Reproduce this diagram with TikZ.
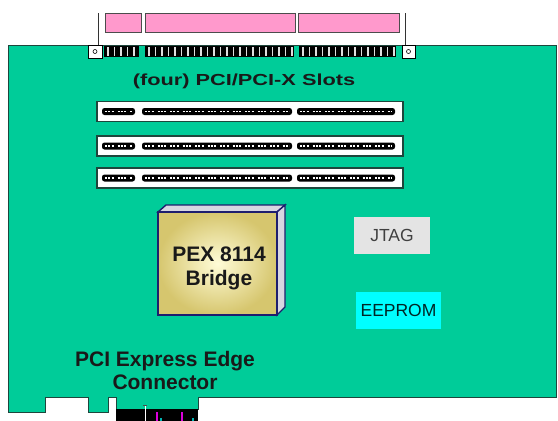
\documentclass[tikz,border=0pt]{standalone}
\usepackage{graphicx}
\usepackage{fontspec}
\setmainfont{Liberation Sans}
\definecolor{board}{RGB}{0,204,153}
\definecolor{boardline}{RGB}{30,70,60}
\definecolor{pinkc}{RGB}{255,153,204}
\definecolor{navy}{RGB}{30,30,110}
\definecolor{chipin}{RGB}{255,252,215}
\definecolor{chipout}{RGB}{214,198,110}
\definecolor{sidec}{RGB}{215,215,225}
\definecolor{jtagc}{RGB}{228,228,228}
\definecolor{eepc}{RGB}{0,255,255}
\definecolor{magc}{RGB}{220,0,220}
\tikzset{
  slotbox/.style={draw=boardline,line width=1.3pt,fill=white},
  pinbar/.style={fill=black,rounded corners=2.5pt},
  pinmark/.style={white,line width=1.3pt,dash pattern=on 2pt off 1pt on 2pt off 1.5pt on 2pt off 4pt},
  pinkbox/.style={fill=pinkc,draw=black!70,line width=0.8pt},
  mount/.style={draw=black,fill=white,line width=0.8pt},
  bigtxt/.style={font=\fontsize{21}{25}\selectfont\bfseries,text=black!90,align=center},
  smallbox/.style={minimum width=76pt,minimum height=37pt,inner sep=0pt,font=\fontsize{17.5}{20}\selectfont}
}
\begin{document}
\begin{tikzpicture}[x=1pt,y=-1pt]
\useasboundingbox (0,0) rectangle (558,421);
% top bracket frame
\draw[black!80,line width=0.8pt] (98,13) -- (98,45) (405,13) -- (405,45);
\draw[pinkbox] (105,13) rectangle (141,32);
\draw[pinkbox] (145,13) rectangle (295,32);
\draw[pinkbox] (298,13) rectangle (399,32);
% board
\draw[fill=board,draw=boardline,line width=1pt]
  (8,45) -- (556,45) -- (556,397) -- (198,397) -- (198,409) -- (116,409)
  -- (116,397) -- (108,397) -- (108,412) -- (88,412) -- (88,397) -- (45,397)
  -- (45,412) -- (8,412) -- cycle;
% top contact strip
\foreach \a/\b in {104/139,145/294,299/396}{
  \fill[black] (\a,46) rectangle (\b,57);
}
\foreach \a/\b in {104/139,145/294,299/396}{
  \pgfmathsetmacro{\s}{\a+4}
  \pgfmathsetmacro{\t}{\s+6.5}
  \foreach \x in {\s,\t,...,\b}{
    \ifdim \x pt<\b pt \draw[white!75!gray,line width=1.6pt] (\x,47) -- (\x,56);\fi
  }
}
\draw[mount] (88,45) rectangle (102,58);
\draw[black,fill=white,line width=0.6pt] (95,51.5) circle (2);
\draw[mount] (402,45) rectangle (415,58);
\draw[black,fill=white,line width=0.6pt] (408.5,51.5) circle (2);
% title
\node (title) at (244,81) {\scalebox{1.36}[1]{\fontsize{16}{19}\selectfont\bfseries\color{black!90}(four) PCI/PCI-X Slots}};
% slots
\foreach \n/\y in {1/111.5,2/146,3/178}{
  \draw[slotbox] (97,\y-10) rectangle (403,\y+10);
  \foreach \a/\b in {102/135,142/292,297/395}{
    \fill[pinbar] (\a,\y-3.5) rectangle (\b,\y+3.5);
    \draw[pinmark] (\a+3,\y) -- (\b-3,\y);
  }
}
% chip
\fill[sidec,draw=navy,line width=1.4pt] (158,212) -- (166,205) -- (285,205) -- (277,212) -- cycle;
\fill[sidec,draw=navy,line width=1.4pt] (277,212) -- (285,205) -- (285,307) -- (277,315) -- cycle;
\shade[inner color=chipin,outer color=chipout] (158,212) rectangle (277,315);
\draw[navy,line width=1.6pt] (158,212) rectangle (277,315);
\node[bigtxt] (chip) at (219,268) {PEX 8114\\[-1pt]Bridge};
% JTAG / EEPROM
\node[smallbox,fill=jtagc,text=black!75] (jtag) at (392,235.5) {JTAG};
\node[smallbox,fill=eepc,text=black!70!teal,minimum width=85pt] (eeprom) at (398.5,310.5) {EEPROM};
% edge connector label
\node[bigtxt] (edge) at (165,370) {PCI Express Edge\\[-2pt]Connector};
% edge connector contacts
\fill[black] (116,409) rectangle (198,421);
\draw[white,line width=1pt] (145,405) -- (145,421);
\draw[black!70,line width=1pt] (143,405) -- (147,405);
\draw[magc,line width=1.5pt] (157,412) -- (157,421) (182,412) -- (182,421);
\fill[teal!60!cyan] (160,418) rectangle (162,421);
\fill[teal!60!cyan] (192,418) rectangle (194,421);
\end{tikzpicture}
\end{document}
